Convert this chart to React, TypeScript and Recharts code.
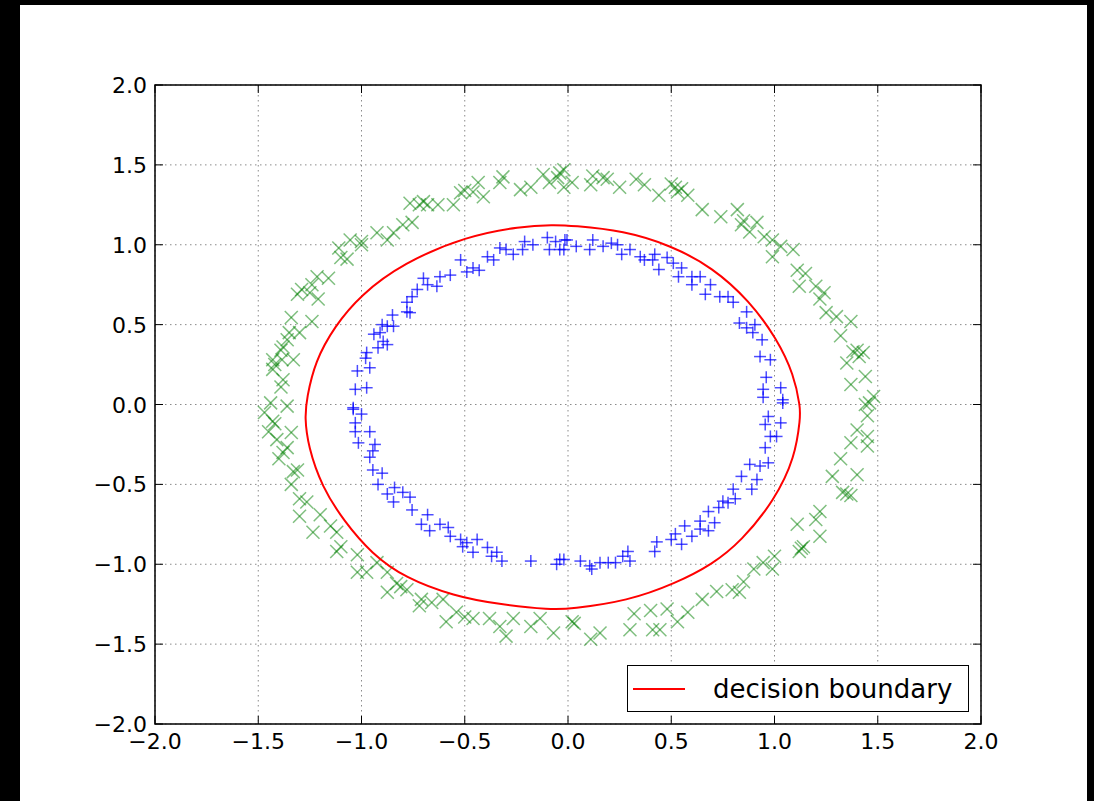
import {
  CartesianGrid,
  Legend,
  ReferenceArea,
  Scatter,
  ScatterChart,
  XAxis,
  YAxis,
} from "recharts";

// outer ring (class 0)
const outerPoints: [number, number][] = [
  [-0.02, 1.47], [0.02, 1.39], [0.11, 1.375], [0.17, 1.42], [0.19, 1.41], [0.25, 1.36],
  [0.33, 1.41], [0.37, 1.375], [0.44, 1.31], [0.52, 1.36], [0.53, 1.33], [0.58, 1.31],
  [0.65, 1.22], [0.74, 1.175], [0.82, 1.22], [0.84, 1.125], [0.915, 1.14], [0.88, 1.08],
  [0.99, 1.03], [1.03, 0.99], [1.09, 0.97], [0.99, 0.925], [1.11, 0.84], [1.12, 0.74],
  [1.2, 0.74], [1.24, 0.7], [1.22, 0.66], [1.25, 0.575], [1.3, 0.55], [1.37, 0.52],
  [1.32, 0.43], [1.4, 0.34], [1.43, 0.325], [1.35, 0.26], [1.44, 0.175], [1.37, 0.125],
  [1.48, 0.05], [1.44, 0.0], [0.55, 1.35], [0.85, 1.15], [1.38, 0.33], [1.41, 0.3],
  [0.95, 1.05], [1.15, 0.82], [0.5, 1.38], [0.12, 1.43], [-0.05, 1.42],
  [1.46, 0.01], [1.45, -0.07], [1.4, -0.16], [1.45, -0.2], [1.37, -0.24], [1.45, -0.26],
  [1.32, -0.34], [1.28, -0.45], [1.4, -0.44], [1.33, -0.55], [1.37, -0.57], [1.35, -0.56],
  [1.22, -0.67], [1.2, -0.72], [1.11, -0.75], [1.22, -0.825], [1.14, -0.89], [1.12, -0.92],
  [1.13, -0.9], [1.0, -0.95], [0.99, -1.03], [0.945, -0.99], [0.9, -1.03], [0.85, -1.11],
  [0.83, -1.175], [0.795, -1.16], [0.72, -1.17], [0.65, -1.22], [0.58, -1.3], [0.53, -1.36],
  [0.48, -1.28], [0.4, -1.29], [0.32, -1.31], [0.41, -1.41], [0.445, -1.41], [0.3, -1.41],
  [0.155, -1.43], [0.11, -1.47], [0.02, -1.36], [0.03, -1.37],
  [-0.07, -1.43], [-0.135, -1.34], [-0.18, -1.39], [-0.265, -1.34], [-0.33, -1.39],
  [-0.3, -1.45], [-0.38, -1.34], [-0.46, -1.34], [-0.54, -1.3], [-0.59, -1.36],
  [-0.605, -1.22], [-0.71, -1.22], [-0.72, -1.26], [-0.78, -1.16], [-0.81, -1.14],
  [-0.875, -1.175], [-0.875, -1.05], [-0.925, -0.99], [-0.975, -1.05], [-1.02, -1.05],
  [-1.02, -0.94], [-1.1, -0.89], [-1.12, -0.92], [-1.12, -0.8], [-1.15, -0.76], [-1.2, -0.69],
  [-1.235, -0.8], [-1.3, -0.7], [-1.265, -0.61], [-1.3, -0.59], [-1.34, -0.5], [-1.31, -0.41],
  [-1.33, -0.42], [-1.4, -0.34], [-1.36, -0.27], [-1.41, -0.22], [-1.34, -0.175],
  [-1.45, -0.17], [-1.43, -0.105], [-1.47, -0.05], [-1.44, 0.01], [-1.36, -0.01],
  [-0.66, -1.24], [-0.5, -1.33], [-0.83, -1.12], [-1.38, -0.3], [-1.42, -0.12],
  [-1.39, 0.11], [-1.38, 0.155], [-1.43, 0.22], [-1.43, 0.28], [-1.385, 0.28], [-1.33, 0.28],
  [-1.39, 0.34], [-1.36, 0.405], [-1.35, 0.45], [-1.3, 0.45], [-1.34, 0.545], [-1.24, 0.52],
  [-1.31, 0.69], [-1.25, 0.7], [-1.24, 0.75], [-1.21, 0.66], [-1.215, 0.8], [-1.16, 0.79],
  [-1.1, 0.92], [-1.07, 0.91], [-1.11, 0.98], [-1.055, 1.03], [-1.0, 1.0], [-0.925, 1.075],
  [-0.875, 1.03], [-0.845, 1.075], [-0.8, 1.125], [-0.755, 1.14], [-0.765, 1.26], [-0.7, 1.27],
  [-0.68, 1.25], [-0.63, 1.25], [-0.555, 1.25], [-0.52, 1.325], [-0.46, 1.33], [-0.435, 1.39],
  [-0.41, 1.3], [-0.315, 1.425], [-0.33, 1.39], [-0.23, 1.345], [-0.18, 1.36], [-0.12, 1.44],
  [-0.09, 1.39], [-0.04, 1.45], [-0.02, 1.36], [-1.29, 0.72], [-1.38, 0.36], [-0.72, 1.25],
  [-0.5, 1.34], [-1.0, 1.02], [-1.42, 0.25],
];

// inner ring (class 1)
const innerPoints: [number, number][] = [
  [-0.1, 1.045], [-0.06, 1.02], [-0.015, 1.03], [-0.04, 0.97], [-0.09, 0.97], [-0.17, 1.0],
  [-0.21, 1.02], [-0.22, 0.97], [-0.265, 0.94], [-0.3, 0.97], [-0.33, 0.98], [-0.36, 0.905],
  [-0.39, 0.925], [-0.43, 0.84], [-0.46, 0.855], [-0.49, 0.83], [-0.52, 0.905], [-0.57, 0.81],
  [-0.62, 0.8], [-0.635, 0.74], [-0.68, 0.75], [-0.7, 0.79], [-0.73, 0.72], [-0.755, 0.675],
  [-0.78, 0.64], [-0.78, 0.58], [-0.765, 0.575], [-0.85, 0.56], [-0.845, 0.49], [-0.875, 0.49],
  [-0.9, 0.5], [-0.91, 0.45], [-0.94, 0.44], [-0.895, 0.395], [-0.875, 0.375], [-0.92, 0.355],
  [-0.975, 0.325], [-0.98, 0.29], [-0.96, 0.23], [-1.02, 0.21], [-0.975, 0.105], [-1.03, 0.095],
  [-1.04, -0.02],
  [-1.04, -0.03], [-1.0, -0.06], [-1.03, -0.115], [-1.03, -0.17], [-0.96, -0.17], [-1.015, -0.24],
  [-0.935, -0.25], [-0.945, -0.29], [-0.96, -0.33], [-0.945, -0.41], [-0.9, -0.43], [-0.92, -0.5],
  [-0.875, -0.56], [-0.84, -0.52], [-0.845, -0.61], [-0.8, -0.55], [-0.765, -0.58], [-0.755, -0.66],
  [-0.68, -0.69], [-0.71, -0.75], [-0.67, -0.79], [-0.62, -0.75], [-0.58, -0.77], [-0.57, -0.825],
  [-0.52, -0.845], [-0.51, -0.89], [-0.49, -0.865], [-0.44, -0.845], [-0.46, -0.925],
  [-0.39, -0.895], [-0.37, -0.95], [-0.345, -0.925], [-0.32, -0.98], [-0.18, -0.98],
  [-0.04, -0.97], [-0.055, -1.0],
  [-0.02, -0.97], [0.06, -0.98], [0.105, -1.01], [0.115, -1.03], [0.155, -0.99], [0.195, -0.99],
  [0.23, -0.99], [0.265, -0.95], [0.29, -0.92], [0.3, -0.98], [0.42, -0.92], [0.43, -0.86],
  [0.5, -0.845], [0.52, -0.81], [0.55, -0.875], [0.565, -0.76], [0.6, -0.825], [0.64, -0.78],
  [0.64, -0.73], [0.68, -0.79], [0.68, -0.67], [0.71, -0.74], [0.73, -0.645], [0.75, -0.605],
  [0.775, -0.615], [0.8, -0.53], [0.81, -0.59], [0.84, -0.45], [0.89, -0.53], [0.88, -0.375],
  [0.915, -0.47], [0.93, -0.385], [0.97, -0.365], [0.955, -0.27], [0.98, -0.2], [1.01, -0.2],
  [0.955, -0.125], [1.03, -0.115], [0.97, -0.075], [1.04, 0.01],
  [1.04, 0.03], [0.945, 0.045], [1.03, 0.105], [0.945, 0.095], [0.96, 0.17], [0.98, 0.28],
  [0.93, 0.3], [0.94, 0.405], [0.895, 0.45], [0.905, 0.5], [0.865, 0.48], [0.83, 0.51],
  [0.865, 0.58], [0.8, 0.64], [0.775, 0.675], [0.735, 0.675], [0.665, 0.69], [0.69, 0.75],
  [0.64, 0.8], [0.6, 0.8], [0.6, 0.75], [0.535, 0.8], [0.55, 0.855], [0.51, 0.885],
  [0.48, 0.92], [0.44, 0.845], [0.41, 0.905], [0.42, 0.94], [0.37, 0.905], [0.35, 0.925],
  [0.3, 0.97], [0.26, 0.94], [0.24, 1.0], [0.21, 1.01], [0.17, 0.99], [0.12, 1.03],
  [0.105, 0.97], [0.04, 0.99], [-0.005, 1.03], [-0.02, 0.97],
];

// decision boundary contour, traced round the picture (closed by the curve)
const boundaryPoints: [number, number][] = [
  [-1.275, -0.08], [-1.265, 0.04], [-1.225, 0.27], [-1.13, 0.49], [-1.005, 0.685],
  [-0.8, 0.885], [-0.49, 1.055], [-0.23, 1.115], [-0.07, 1.125], [0.02, 1.12],
  [0.27, 1.088], [0.5, 0.995], [0.7, 0.858], [0.878, 0.65], [1.01, 0.415],
  [1.095, 0.185], [1.125, -0.02], [1.125, -0.08], [1.1, -0.33], [1.0, -0.6],
  [0.84, -0.855], [0.7, -1.0], [0.52, -1.12], [0.29, -1.23], [0.01, -1.28],
  [-0.08, -1.285], [-0.34, -1.25], [-0.55, -1.2], [-0.79, -1.085], [-0.95, -0.935],
  [-1.085, -0.73], [-1.192, -0.515], [-1.258, -0.265],
];

const axisTicks = [-2, -1.5, -1, -0.5, 0, 0.5, 1, 1.5, 2];

const toXY = (pts: [number, number][]) => pts.map(([x, y]) => ({ x, y }));

const PLOT_W = 826;
const PLOT_H = 639;
const TICK_LEN = 8;
const FONT = "'DejaVu Sans', sans-serif";

function fmt(v: number) {
  return v.toFixed(1).replace("-", "\u2212");
}

function XTick(props: any) {
  const { x, y, payload } = props;
  return (
    <g>
      <line x1={x} y1={y} x2={x} y2={y - TICK_LEN} stroke="#000" strokeWidth={1} />
      <line x1={x} y1={y - PLOT_H} x2={x} y2={y - PLOT_H + TICK_LEN} stroke="#000" strokeWidth={1} />
      <text x={x} y={y + 25} textAnchor="middle" fontSize={22} fontFamily={FONT} fill="#000">
        {fmt(payload.value)}
      </text>
    </g>
  );
}

function YTick(props: any) {
  const { x, y, payload } = props;
  return (
    <g>
      <line x1={x} y1={y} x2={x + TICK_LEN} y2={y} stroke="#000" strokeWidth={1} />
      <line x1={x + PLOT_W} y1={y} x2={x + PLOT_W - TICK_LEN} y2={y} stroke="#000" strokeWidth={1} />
      <text x={x - 8} y={y + 8} textAnchor="end" fontSize={22} fontFamily={FONT} fill="#000">
        {fmt(payload.value)}
      </text>
    </g>
  );
}

function CrossMarker(props: any) {
  const { cx, cy } = props;
  const r = 6.5;
  return (
    <g stroke="#008000" strokeOpacity={0.5} strokeWidth={1.5}>
      <line x1={cx - r} y1={cy - r} x2={cx + r} y2={cy + r} />
      <line x1={cx - r} y1={cy + r} x2={cx + r} y2={cy - r} />
    </g>
  );
}

function PlusMarker(props: any) {
  const { cx, cy } = props;
  const r = 6;
  return (
    <g stroke="#0000ff" strokeOpacity={0.7} strokeWidth={1.5}>
      <line x1={cx - r} y1={cy} x2={cx + r} y2={cy} />
      <line x1={cx} y1={cy - r} x2={cx} y2={cy + r} />
    </g>
  );
}

function renderLegend(props: any) {
  const items = (props.payload || []).filter((p: any) => p.type !== "none");
  return (
    <div
      style={{
        boxSizing: "border-box",
        width: 342,
        height: 47,
        border: "1.5px solid #000",
        background: "#fff",
        display: "flex",
        alignItems: "center",
        fontFamily: FONT,
        fontSize: 26,
        color: "#000",
      }}
    >
      {items.map((item: any) => (
        <div key={item.value} style={{ display: "flex", alignItems: "center" }}>
          <div style={{ width: 52, height: 2, background: "#ff0000", marginLeft: 5 }} />
          <span style={{ marginLeft: 28 }}>{item.value}</span>
        </div>
      ))}
    </div>
  );
}

export default function App() {
  return (
    <div
      style={{
        position: "absolute",
        left: 0,
        top: 0,
        width: 1094,
        height: 801,
        background: "#000",
      }}
    >
      <div
        style={{
          position: "absolute",
          left: 20,
          top: 5,
          width: 1067,
          height: 796,
          background: "#fff",
        }}
      >
        <ScatterChart
          width={1067}
          height={796}
          margin={{ top: 80, right: 106, bottom: 37, left: 75 }}
        >
          <CartesianGrid stroke="#8a8a8a" strokeDasharray="1.5 3.5" strokeWidth={1} />
          <XAxis
            type="number"
            dataKey="x"
            domain={[-2, 2]}
            ticks={axisTicks}
            interval={0}
            allowDataOverflow
            axisLine={false}
            tickLine={false}
            tickSize={0}
            tickMargin={0}
            height={40}
            tick={<XTick />}
          />
          <YAxis
            type="number"
            dataKey="y"
            domain={[-2, 2]}
            ticks={axisTicks}
            interval={0}
            allowDataOverflow
            axisLine={false}
            tickLine={false}
            tickSize={0}
            tickMargin={0}
            width={60}
            tick={<YTick />}
          />
          <Scatter
            name="outer"
            data={toXY(outerPoints)}
            shape={<CrossMarker />}
            legendType="none"
            isAnimationActive={false}
          />
          <Scatter
            name="inner"
            data={toXY(innerPoints)}
            shape={<PlusMarker />}
            legendType="none"
            isAnimationActive={false}
          />
          <Scatter
            name="decision boundary"
            data={toXY(boundaryPoints)}
            shape={() => <g />}
            line={{ stroke: "#ff0000", strokeWidth: 2 }}
            lineJointType="basisClosed"
            legendType="line"
            fill="#ff0000"
            isAnimationActive={false}
          />
          <ReferenceArea
            x1={-2}
            x2={2}
            y1={-2}
            y2={2}
            fill="none"
            fillOpacity={0}
            stroke="#000"
            strokeWidth={1.5}
            ifOverflow="visible"
          />
          <Legend
            layout="vertical"
            align="center"
            verticalAlign="middle"
            content={renderLegend}
            wrapperStyle={{ left: 607, top: 660, width: 342, height: 47 }}
          />
        </ScatterChart>
      </div>
    </div>
  );
}
